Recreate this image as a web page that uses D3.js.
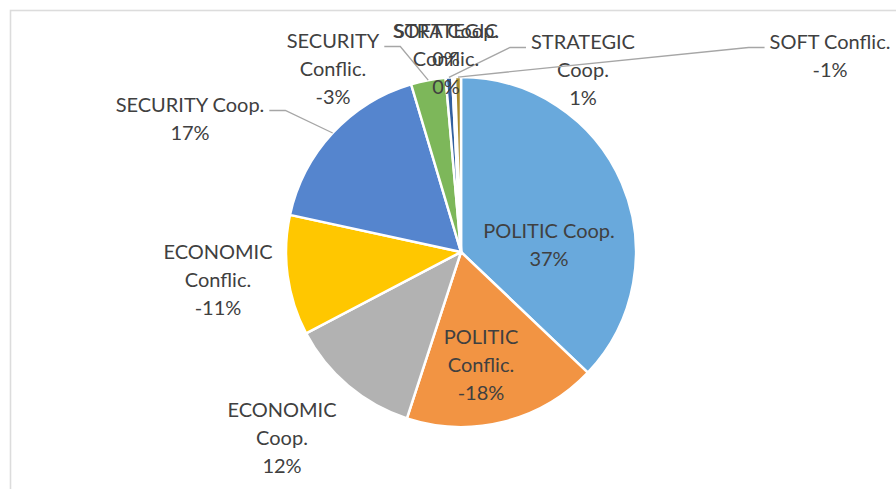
<!DOCTYPE html>
<html>
<head>
<meta charset="utf-8">
<script src="https://cdn.jsdelivr.net/npm/d3@7/dist/d3.min.js"></script>
<style>
  html, body { margin: 0; padding: 0; background: #fff; }
  svg { display: block; }
  text { font-family: Lato, "Open Sans", sans-serif; fill: #404040; }
</style>
</head>
<body>
<svg id="chart" width="896" height="489"></svg>
<script>
// Share of each interaction type, in percent (conflict types carry a minus sign)
const categories = [
  "POLITIC Coop.", "POLITIC Conflic.", "ECONOMIC Coop.", "ECONOMIC Conflic.",
  "SECURITY Coop.", "SECURITY Conflic.", "STRATEGIC Coop.", "STRATEGIC Conflic.",
  "SOFT Coop.", "SOFT Conflic."
];
const shares = [37.1, -17.9, 12.3, -11.1, 17.0, -3.2, 0.6, -0.2, 0.05, -0.55];
const sliceColors = [
  "#69a9dc", "#f29443", "#b2b2b2", "#ffc700", "#5585ce",
  "#7db75a", "#32609f", "#a8541c", "#707070", "#a88a2a"
];

// How each category name wraps in its label
const nameLines = [
  ["POLITIC Coop."], ["POLITIC", "Conflic."], ["ECONOMIC", "Coop."], ["ECONOMIC", "Conflic."],
  ["SECURITY Coop."], ["SECURITY", "Conflic."], ["STRATEGIC", "Coop."], ["STRATEGIC", "Conflic."],
  ["SOFT Coop."], ["SOFT Conflic."]
];

// Label placement relative to the pie centre (x of text centre, y of first line),
// plus which side a leader line leaves from (null = no leader)
const labelLayout = [
  { dx: 88,   dy: -22,  leader: null },
  { dx: 20,   dy: 84,   leader: null },
  { dx: -179, dy: 157,  leader: null },
  { dx: -243, dy: -1,   leader: null },
  { dx: -271, dy: -148, leader: "right" },
  { dx: -128, dy: -212, leader: "right" },
  { dx: 122,  dy: -211, leader: "left" },
  { dx: -15,  dy: -222, leader: null },
  { dx: -15,  dy: -222, leader: null },
  { dx: 369,  dy: -211, leader: "left" }
];

const width = 896, height = 489;
const cx = 461, cy = 252, R = 175;
const lineGap = 28;

const svg = d3.select("#chart");

// Chart area frame (runs off the right and bottom edges)
svg.append("rect")
  .attr("x", 10.5).attr("y", 10.5)
  .attr("width", 1200).attr("height", 1200)
  .attr("fill", "none")
  .attr("stroke", "#dcdcdc")
  .attr("stroke-width", 1.6);

const rows = categories.map((c, i) => ({ name: c, value: shares[i], i }));

const pie = d3.pie()
  .sort(null)
  .value(d => Math.abs(d.value))
  .startAngle(0)
  .endAngle(2 * Math.PI);

const arcs = pie(rows);
const arc = d3.arc().innerRadius(0).outerRadius(R);
const rim = d3.arc().innerRadius(R).outerRadius(R);

const g = svg.append("g").attr("transform", `translate(${cx},${cy})`);

g.selectAll("path.slice")
  .data(arcs)
  .join("path")
  .attr("class", "slice")
  .attr("d", arc)
  .attr("fill", d => sliceColors[d.data.i])
  .attr("stroke", "#fff")
  .attr("stroke-width", 2.5)
  .attr("stroke-linejoin", "round");

const fmt = v => {
  const r = Math.round(v);
  return (r === 0 ? "0" : String(r)) + "%";
};

const labels = g.append("g").attr("class", "labels");

arcs.forEach(d => {
  const i = d.data.i;
  const lay = labelLayout[i];
  const lines = nameLines[i].concat([fmt(d.data.value)]);
  const t = labels.append("text")
    .attr("text-anchor", "middle")
    .attr("dominant-baseline", "central")
    .style("font-size", "20px");
  lines.forEach((ln, k) => {
    t.append("tspan")
      .attr("x", lay.dx)
      .attr("y", lay.dy + k * lineGap)
      .text(ln);
  });

  if (lay.leader) {
    const first = t.select("tspan").node();
    const w = first.getComputedTextLength();
    const y = lay.dy + 6.5;
    const x0 = lay.leader === "right" ? lay.dx + w / 2 + 5 : lay.dx - w / 2 - 5;
    const x1 = lay.leader === "right" ? x0 + 16 : x0 - 16;
    const [ex, ey] = rim.centroid(d);
    labels.append("polyline")
      .attr("points", [[x0, y], [x1, y], [ex, ey]].map(p => p.join(",")).join(" "))
      .attr("fill", "none")
      .attr("stroke", "#a6a6a6")
      .attr("stroke-width", 1.3);
  }
});
</script>
</body>
</html>
